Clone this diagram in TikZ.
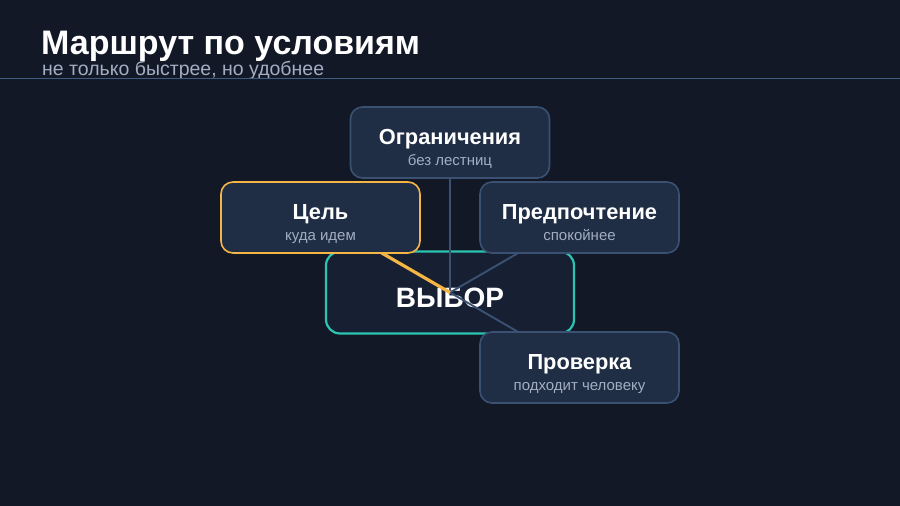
\documentclass[tikz,border=0pt]{standalone}
\usepackage{fontspec}
\setmainfont{Liberation Sans}
\definecolor{bg}{HTML}{121826}
\definecolor{boxfill}{HTML}{1F2D45}
\definecolor{boxline}{HTML}{3A5172}
\definecolor{centerfill}{HTML}{172033}
\definecolor{teal}{HTML}{2CC4B0}
\definecolor{amber}{HTML}{F5B545}
\definecolor{subgray}{HTML}{A3AEC2}
\definecolor{rule}{HTML}{3D5A80}
\begin{document}
\begin{tikzpicture}[x=1pt,y=-1pt,
  card/.style={draw=boxline, line width=1.6pt, fill=boxfill, rounded corners=12pt, minimum width=199pt, minimum height=71pt, inner sep=0pt},
  hub/.style={draw=teal, line width=2.2pt, fill=centerfill, rounded corners=14pt, minimum width=248pt, minimum height=82pt, inner sep=0pt},
  link/.style={draw=boxline, line width=1.9pt},
  hot/.style={draw=amber, line width=3.2pt},
  ttl/.style={text=white, font=\bfseries\fontsize{21.8}{26}\selectfont, anchor=base, inner sep=0pt},
  sub/.style={text=subgray, font=\fontsize{15}{18}\selectfont, anchor=base, inner sep=0pt}]
\fill[bg] (0,0) rectangle (900,506);
\useasboundingbox (0,0) rectangle (900,506);
\node[anchor=base west, text=white, font=\bfseries\fontsize{34}{40}\selectfont, inner sep=0pt] (title) at (41,54) {Маршрут по условиям};
\node[anchor=base west, text=subgray, font=\fontsize{19.5}{23}\selectfont, inner sep=0pt] (subtitle) at (42,75) {не только быстрее, но удобнее};
\coordinate (rl) at (0,78.5);
\coordinate (rr) at (900,78.5);
\draw[rule, line width=1pt] (rl) -- (rr);
% hub
\node[hub] (hub) at (450,292.5) {};
\node[text=white, font=\bfseries\fontsize{28}{32}\selectfont, anchor=base, inner sep=0pt] (hubt) at (450,307) {ВЫБОР};
% card positions
\coordinate (cO) at (450,142.5);
\coordinate (cC) at (320.5,217.5);
\coordinate (cP) at (579.5,217.5);
\coordinate (cV) at (579.5,367.5);
\draw[link] (hub.center) -- (cO);
\draw[link] (hub.center) -- (cP);
\draw[link] (hub.center) -- (cV);
\draw[hot] (hub.center) -- (cC);
\node[card] (ogr) at (cO) {};
\node[card, draw=amber] (cel) at (cC) {};
\node[card] (pred) at (cP) {};
\node[card] (prov) at (cV) {};
\node[ttl] (ogrt) at ([yshift=-2pt]ogr.center) {Ограничения};
\node[sub] (ogrs) at ([yshift=-22.5pt]ogr.center) {без лестниц};
\node[ttl] (celt) at ([yshift=-2pt]cel.center) {Цель};
\node[sub] (cels) at ([yshift=-22.5pt]cel.center) {куда идем};
\node[ttl] (predt) at ([yshift=-2pt]pred.center) {Предпочтение};
\node[sub] (preds) at ([yshift=-22.5pt]pred.center) {спокойнее};
\node[ttl] (provt) at ([yshift=-2pt]prov.center) {Проверка};
\node[sub] (provs) at ([yshift=-22.5pt]prov.center) {подходит человеку};
\end{tikzpicture}
\end{document}
